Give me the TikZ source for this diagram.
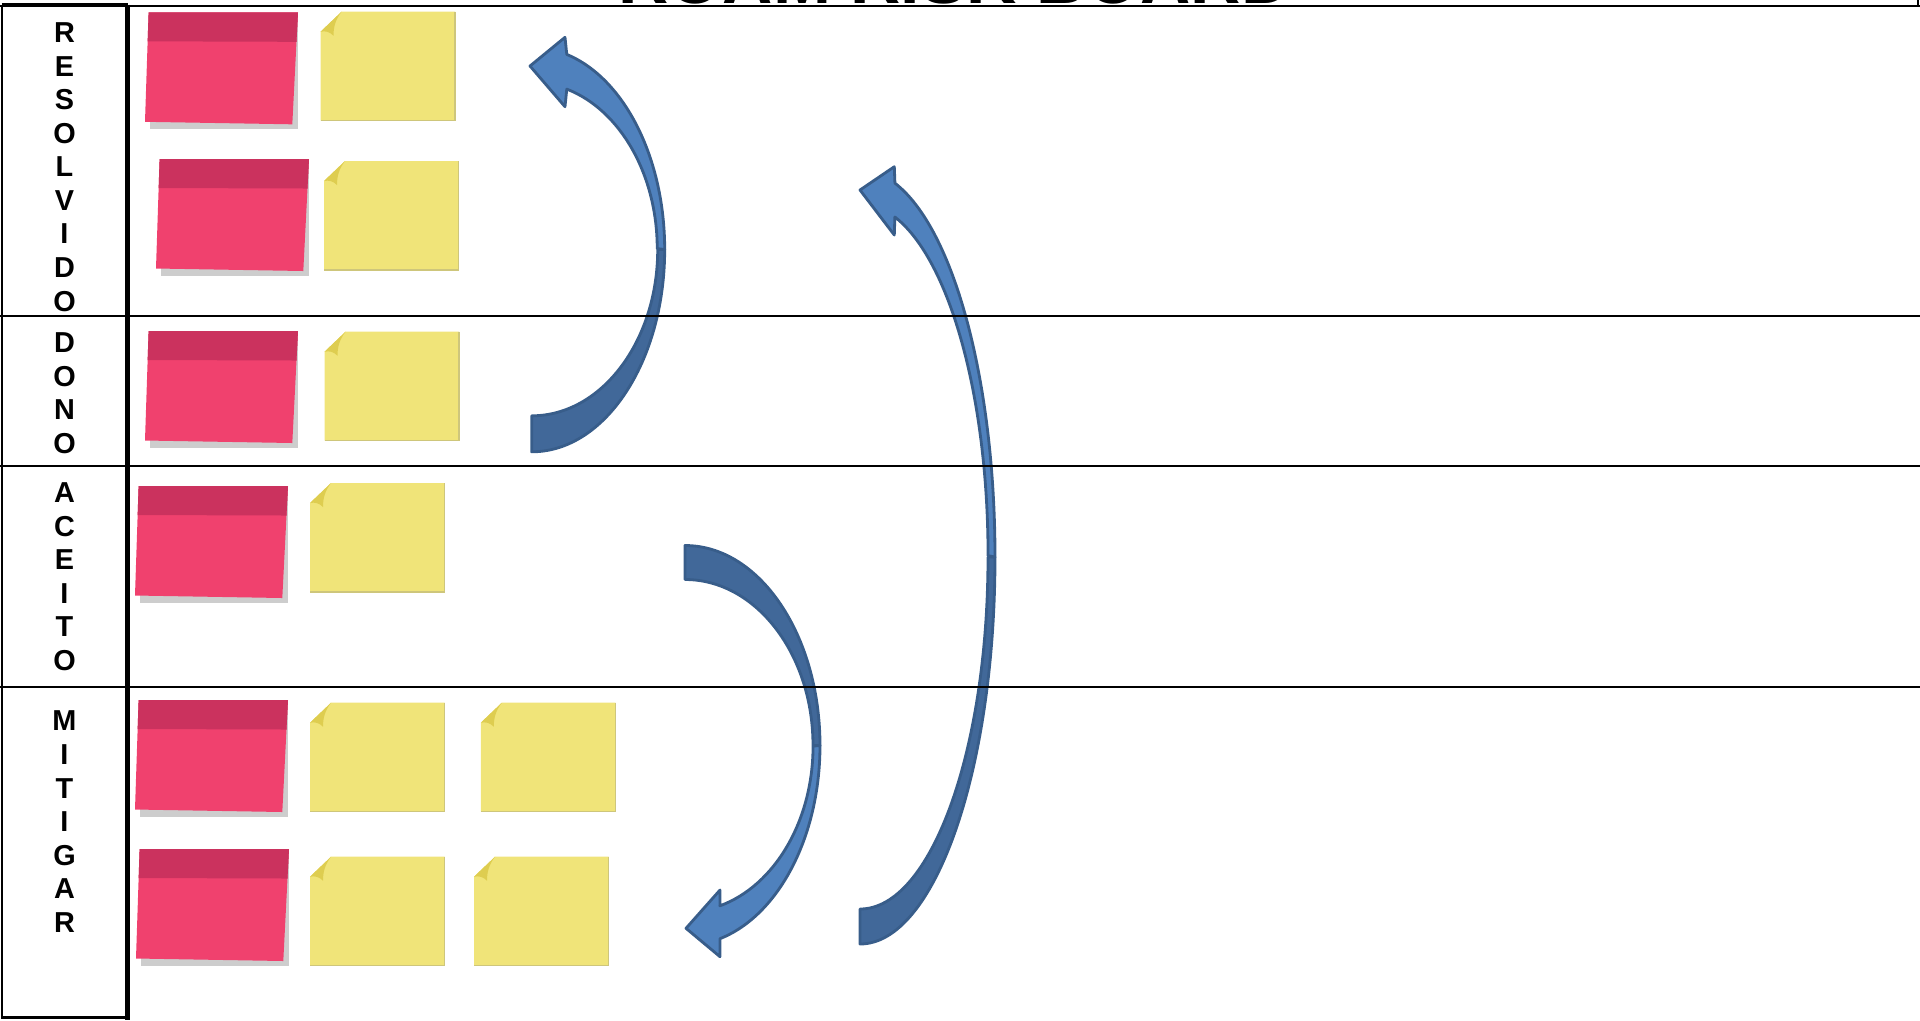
\documentclass[tikz,border=0pt]{standalone}
\usepackage{fontspec}
\setmainfont{Liberation Sans}
\definecolor{rosaclaro}{RGB}{240,65,110}
\definecolor{rosaescuro}{RGB}{203,50,94}
\definecolor{sombra}{RGB}{205,205,205}
\definecolor{amarelo}{RGB}{240,228,121}
\definecolor{dobra}{RGB}{222,205,80}
\definecolor{setaclara}{RGB}{79,129,189}
\definecolor{setaescura}{RGB}{65,104,153}
\definecolor{setaborda}{RGB}{56,93,138}

\begin{document}
\begin{tikzpicture}[x=0.01cm, y=-0.01cm,
  rotulo/.style={font=\fontsize{8.2}{9.55}\selectfont\bfseries, align=center, inner sep=0pt},
  titulo/.style={font=\fontsize{19.8}{24}\selectfont\bfseries, inner sep=0pt},
  linha/.style={line width=0.5pt},
  frente/.style={draw=setaborda, fill=setaclara, line width=0.8pt, line join=round},
  verso/.style={draw=setaborda, fill=setaescura, line width=0.8pt, line join=round},
  rosa/.pic={
    \fill[sombra] (5,5) rectangle (153,117);
    \fill[rosaclaro] (3.6,0) -- (153,0) -- (147.3,112) -- (0,109.5) -- cycle;
    \fill[rosaescuro] (3.6,0) -- (153,0) -- (151.5,29.5) -- (2.65,29) -- cycle;
  },
  amarela/.pic={
    \fill[amarelo] (21,0) -- (134.5,0) -- (134.5,109) -- (0,109) -- (0,20) -- cycle;
    \draw[amarelo!70!gray, line width=0.3pt] (134.5,0) -- (134.5,109) -- (0,109);
    \fill[dobra] (0,20) -- (21,0) .. controls (15,8) and (13,15) .. (13,24)
                 .. controls (9,20) and (5,19) .. (0,20) -- cycle;
  }]
\useasboundingbox (0,0) rectangle (1920,1020);

\node[titulo, anchor=base] (titulo) at (955,3) {ROAM RISK BOARD};

% setas
\draw[verso] (531.7,415.8) arc[start angle=90, end angle=0, x radius=126, y radius=166.3]
      -- (664.7,249.5) arc[start angle=0, end angle=90, x radius=133, y radius=202.3] -- cycle;
\draw[frente] (664.7,249.5) arc[start angle=0, end angle=-74.7, x radius=133, y radius=202.3]
      -- (565,37.3) -- (530,66) -- (565,106.7) -- (566.8,89.1)
      arc[start angle=-73.6, end angle=0, x radius=126, y radius=166.3] -- cycle;

\draw[verso] (860,909) arc[start angle=90, end angle=0, x radius=128, y radius=352]
      -- (995,557) arc[start angle=0, end angle=90, x radius=135, y radius=387] -- cycle;
\draw[frente] (995,557) arc[start angle=0, end angle=-75, x radius=135, y radius=387]
      -- (894.3,166.7) -- (860,190) -- (894.3,235) -- (894.9,217)
      arc[start angle=-74.2, end angle=0, x radius=128, y radius=352] -- cycle;

\draw[verso] (685,579.5) arc[start angle=-90, end angle=0, x radius=128, y radius=166]
      -- (820,745.5) arc[start angle=0, end angle=-90, x radius=135, y radius=200] -- cycle;
\draw[frente] (820,745.5) arc[start angle=0, end angle=75, x radius=135, y radius=200]
      -- (720,956.7) -- (686,928.3) -- (720,890) -- (719.9,905.8)
      arc[start angle=74.2, end angle=0, x radius=128, y radius=166] -- cycle;

% quadro
\draw[line width=0.6pt] (0,6) -- (1920,6) (1918.3,0) -- (1918.3,6);
\draw[linha] (0,315.7) -- (1920,315.7) (0,465.7) -- (1920,465.7) (0,687) -- (1920,687);
\draw[line width=0.7pt] (2,5) -- (2,1017.5) -- (127.5,1017.5);
\draw[line width=1pt] (2,5) -- (127.5,5);
\draw[line width=1.4pt] (127.5,4.5) -- (127.5,1020);

\node[rotulo] (resolvido) at (64.5,167) {R\\E\\S\\O\\L\\V\\I\\D\\O};
\node[rotulo] (dono) at (64.5,393.3) {D\\O\\N\\O};
\node[rotulo] (aceito) at (64.5,576.8) {A\\C\\E\\I\\T\\O};
\node[rotulo] (mitigar) at (64.5,821.8) {M\\I\\T\\I\\G\\A\\R};

% notas
\pic at (145,12.3) {rosa};
\pic at (156,159) {rosa};
\pic at (145,331) {rosa};
\pic at (135,486) {rosa};
\pic at (135,700) {rosa};
\pic at (136,849) {rosa};
\pic at (320.5,11.7) {amarela};
\pic at (324,161) {amarela};
\pic at (324.5,331.7) {amarela};
\pic at (310,483) {amarela};
\pic at (310,702.7) {amarela};
\pic at (480.8,702.7) {amarela};
\pic at (310,856.7) {amarela};
\pic at (474,856.7) {amarela};

\end{tikzpicture}
\end{document}
